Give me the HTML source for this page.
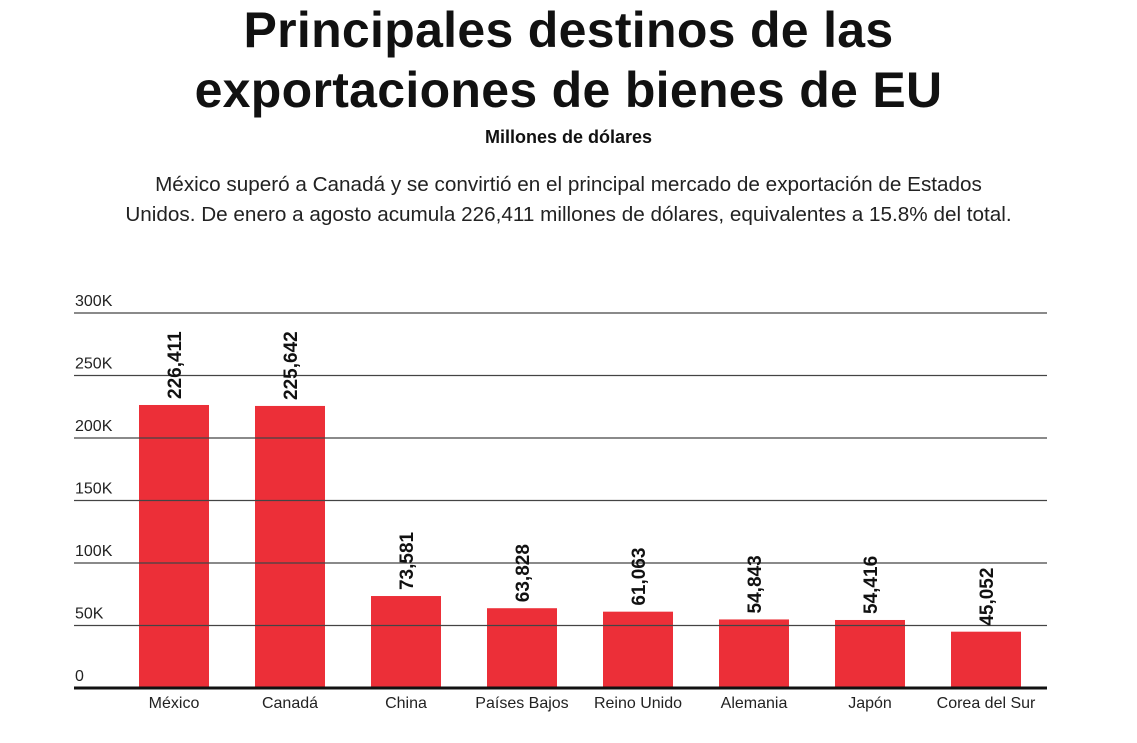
<!DOCTYPE html>
<html><head><meta charset="utf-8"><style>
body{margin:0;width:1137px;height:743px;background:#fff;overflow:hidden;font-family:"Liberation Sans",sans-serif;color:#111}
.t{position:absolute;left:0;width:1137px;text-align:center}
</style></head><body>
<div class="t" style="top:0px;font-size:50px;font-weight:bold;line-height:60px;letter-spacing:0.3px">Principales destinos de las<br>exportaciones de bienes de EU</div>
<div class="t" style="top:127px;font-size:18px;font-weight:bold">Millones de dólares</div>
<div class="t" style="top:170px;font-size:20.7px;line-height:30px;color:#222">México superó a Canadá y se convirtió en el principal mercado de exportación de Estados<br>Unidos. De enero a agosto acumula 226,411 millones de dólares, equivalentes a 15.8% del total.</div>
<svg id="c" width="1137" height="743" style="position:absolute;left:0;top:0"></svg>
<script>
const categories=["México","Canadá","China","Países Bajos","Reino Unido","Alemania","Japón","Corea del Sur"];
const values=[226411,225642,73581,63828,61063,54843,54416,45052];
const tickValues=[0,50000,100000,150000,200000,250000,300000];
const tickLabels=["0","50K","100K","150K","200K","250K","300K"];
const NS="http://www.w3.org/2000/svg";
const svg=document.getElementById('c');
const y0=688,yTop=313,x0=74,x1=1047;
const y=v=>y0-(v/300000)*(y0-yTop);
const band=116;
const x=i=>174+band*i;
function mk(t,a){const e=document.createElementNS(NS,t);for(const k in a)e.setAttribute(k,a[k]);svg.appendChild(e);return e;}
values.forEach((v,i)=>{
 const r=mk('rect',{x:x(i)-35,y:y(v),width:70,height:y0-y(v),fill:'#ec2f38'});
 
 
});
tickValues.forEach((t,i)=>{
 if(i>0){const l=mk('line',{x1:x0,x2:x1,y1:y(t),y2:y(t),stroke:'#444','stroke-width':1.2});
 
 }
 const tx=mk('text',{x:x0+1,y:y(t)-7,'font-size':16,fill:'#222'});tx.textContent=tickLabels[i];
 
 
});
const ax=mk('line',{x1:x0,x2:x1,y1:y0,y2:y0,stroke:'#111','stroke-width':3});


values.forEach((v,i)=>{
 const cx=x(i)+7,cy=y(v)-6;
 const t=mk('text',{x:cx,y:cy,transform:`rotate(-90 ${cx} ${cy})`,'font-size':19,'font-weight':'bold',fill:'#111'});
 t.textContent=v.toLocaleString('en-US');
 
 
 const c=mk('text',{x:x(i),y:708,'text-anchor':'middle','font-size':16,fill:'#222'});
 c.textContent=categories[i];
 
 
});
</script>
</body></html>
